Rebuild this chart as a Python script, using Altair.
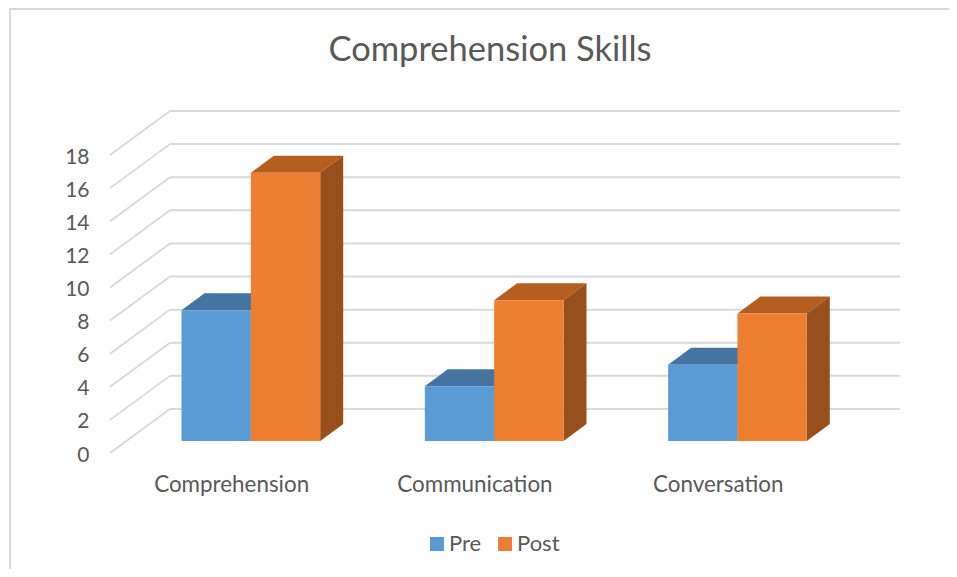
import altair as alt
import pandas as pd

categories = ["Comprehension", "Communication", "Conversation"]
pre = [7.9, 3.3, 4.6]
post = [16.2, 8.5, 7.7]
ticks = [0, 2, 4, 6, 8, 10, 12, 14, 16, 18]

FONT = "Lato"
TEXT = "#595959"
GRID = "#D9D9D9"
BLUE, BLUE_TOP = "#5B9BD5", "#44749F"
ORANGE, ORANGE_TOP, ORANGE_SIDE = "#ED7D31", "#B55E20", "#97501C"

# Geometry of the fake 3-D view, in axis units
WALL_DX, WALL_DY = 0.2466, 2.66
BAR_L, BAR_W = 0.294, 0.285
DEPTH_X, DEPTH_Y = 0.0945, 1.03
BASE = 0.725

x_scale = alt.Scale(domain=[0, 3.247], nice=False, zero=False)
y_scale = alt.Scale(domain=[0, 20.66], nice=False, zero=False)
y_axis = alt.Axis(values=ticks, grid=False, domain=False, ticks=False, labelPadding=21,
                  labelOverlap=False, labelBound=False, labelFlush=False, labelOffset=2,
                  labelFont=FONT, labelFontSize=21, labelColor=TEXT, title=None)
X = lambda f: alt.X(f"{f}:Q", scale=x_scale, axis=None)
Y = lambda f: alt.Y(f"{f}:Q", scale=y_scale, axis=y_axis)

grid = pd.DataFrame({"v": ticks})
grid["x0"] = 0.0
grid["x1"] = WALL_DX
grid["x2"] = 3.247
grid["w"] = grid["v"] + WALL_DY

diagonals = alt.Chart(grid).mark_rule(color=GRID, strokeWidth=1.8).encode(
    x=X("x0"), x2="x1:Q", y=Y("v"), y2="w:Q",
)
walls = alt.Chart(grid).mark_rule(color=GRID, strokeWidth=2).encode(
    x=X("x1"), x2="x2:Q", y=Y("w"),
)

fronts, tops, sides = [], [], []
for series, values, off in (("Pre", pre, 0), ("Post", post, 1)):
    for i, v in enumerate(values):
        l = i + BAR_L + off * BAR_W
        r = l + BAR_W
        fronts.append({"series": series, "l": l, "r": r, "b": BASE, "t": BASE + v})
        t = BASE + v
        for px, a, b in ((l, t, t), (l + DEPTH_X, t + DEPTH_Y, t),
                         (r, t + DEPTH_Y, t), (r + DEPTH_X, t + DEPTH_Y, t + DEPTH_Y)):
            tops.append({"series": series, "bar": i, "px": px, "a": a, "b": b})
        for px, a, b in ((r, t, BASE), (r + DEPTH_X, t + DEPTH_Y, BASE + DEPTH_Y)):
            sides.append({"series": series, "bar": i, "px": px, "a": a, "b": b})
tops = pd.DataFrame(tops)
sides = pd.DataFrame(sides)


def face(df, series, color):
    return alt.Chart(df[df.series == series]).mark_area(
        color=color, orient="vertical", interpolate="linear"
    ).encode(
        x=X("px"), y=Y("a"), y2="b:Q", detail="bar:N",
    )


front = alt.Chart(pd.DataFrame(fronts)).mark_rect().encode(
    x=X("l"), x2="r:Q", y=Y("b"), y2="t:Q",
    color=alt.Color("series:N", title=None,
                    scale=alt.Scale(domain=["Pre", "Post"], range=[BLUE, ORANGE]),
                    legend=alt.Legend(orient="none", legendX=316, legendY=422,
                                      direction="horizontal", columns=2,
                                      symbolType="square", symbolSize=196,
                                      symbolStrokeWidth=0, columnPadding=12,
                                      labelFont=FONT, labelFontSize=22,
                                      labelColor=TEXT, labelOffset=1)),
)

labels = alt.Chart(pd.DataFrame({"c": categories, "x": [0.5, 1.5, 2.5]})).mark_text(
    font=FONT, fontSize=22.4, color=TEXT
).encode(x=X("x"), y=alt.value(374), text="c:N")

border_left = alt.Chart(pd.DataFrame({"k": [0]})).mark_rule(color=GRID, strokeWidth=2).encode(
    x=alt.value(-100), y=alt.value(-103), y2=alt.value(458))
border_top = alt.Chart(pd.DataFrame({"k": [0]})).mark_rule(color=GRID, strokeWidth=2).encode(
    x=alt.value(-100), x2=alt.value(839), y=alt.value(-102))

chart = alt.layer(
    border_left, border_top, diagonals, walls,
    face(tops, "Pre", BLUE_TOP), face(sides, "Pre", BLUE_TOP),
    face(tops, "Post", ORANGE_TOP), face(sides, "Post", ORANGE_SIDE),
    front, labels,
).properties(
    width=790, height=342,
    padding={"left": 102, "top": 103, "right": 49, "bottom": 116},
    autosize=alt.AutoSizeParams(type="none"),
    title=alt.TitleParams("Comprehension Skills", font=FONT, fontSize=34.5, fontWeight="normal",
                          color=TEXT, anchor="middle", dx=-15, dy=61, offset=0),
    background="white",
).configure_view(stroke=None)

chart.save("out.html", embed_options={"renderer": "svg", "actions": False})
